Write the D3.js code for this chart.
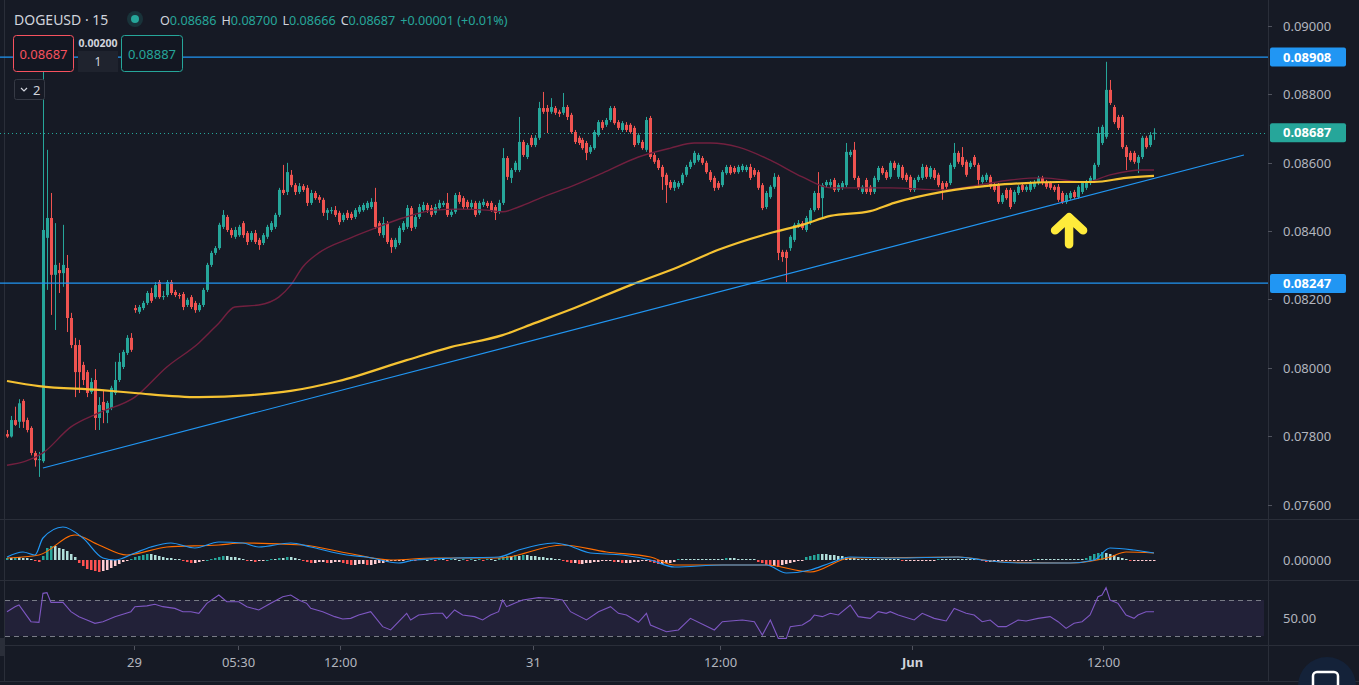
<!DOCTYPE html>
<html>
<head>
<meta charset="utf-8">
<script src="https://cdn.jsdelivr.net/npm/d3@7"></script>
<style>
  html, body { margin: 0; padding: 0; background: #161a25; overflow: hidden; }
  svg { display: block; }
  text { font-family: "Noto Sans", "Open Sans", sans-serif; }
</style>
</head>
<body>
<div id="chart"></div>
<script>
// DOGEUSD 15m candles, prices stored x 1e5 (8687 = 0.08687)
var opens = [
  7807,7800,7848,7843,7904,7848,7825,7752,7731,7728,
  8380,8438,8272,8286,8277,8292,8146,8067,8067,8009,
  7988,7930,7965,7854,7901,7869,7883,7927,7965,8003,
  8044,8088,8175,8164,8175,8190,8219,8207,8251,8207,
  8213,8251,8222,8213,8216,8184,8207,8190,8169,8184,
  8228,8301,8336,8350,8412,8441,8403,8383,8388,8423,
  8394,8374,8394,8374,8365,8383,8403,8412,8447,8520,
  8514,8564,8534,8514,8531,8526,8482,8511,8499,8491,
  8453,8458,8461,8453,8432,8453,8450,8441,8456,8461,
  8467,8470,8485,8423,8388,8423,8374,8353,8365,8403,
  8412,8467,8412,8441,8461,8476,8467,8453,8467,8476,
  8482,8447,8456,8505,8496,8485,8470,8482,8453,8476,
  8482,8482,8470,8456,8482,8613,8555,8578,8578,8660,
  8616,8672,8651,8672,8759,8759,8748,8759,8748,8745,
  8762,8739,8689,8672,8666,8657,8631,8642,8680,8718,
  8710,8724,8759,8718,8695,8710,8710,8701,8657,8660,
  8637,8730,8622,8607,8587,8564,8543,8526,8529,8540,
  8564,8587,8599,8607,8613,8599,8572,8555,8540,8534,
  8569,8587,8584,8572,8578,8578,8587,8578,8572,8534,
  8470,8499,8529,8558,8339,8339,8350,8374,8418,8423,
  8403,8423,8461,8511,8496,8534,8534,8549,8520,8526,
  8534,8622,8637,8555,8514,8549,8529,8514,8549,8584,
  8572,8558,8599,8558,8587,8564,8558,8520,8549,8555,
  8587,8558,8578,8564,8540,8540,8540,8587,8628,8616,
  8602,8587,8616,8593,8543,8549,8558,8534,8534,8485,
  8520,8520,8485,8511,8534,8520,8520,8529,8540,8555,
  8543,8540,8529,8529,8511,8485,8496,8514,8499,8514,
  8526,8540,8549,8593,8657,8675,8812,8762,8733,8733,
  8645,8628,8628,8599,8616,8672,8651,8686
];
var closes = [
  7800,7848,7834,7897,7843,7819,7752,7731,7734,8403,
  8438,8272,8301,8277,8301,8146,8067,7988,7988,7965,
  7927,7959,7854,7892,7877,7898,7942,7965,8018,8047,
  8088,8053,8169,8178,8190,8219,8196,8242,8207,8210,
  8251,8219,8213,8210,8178,8199,8178,8169,8184,8228,
  8301,8336,8350,8418,8447,8403,8388,8403,8412,8388,
  8368,8394,8368,8359,8388,8412,8423,8447,8520,8511,
  8572,8534,8514,8531,8520,8482,8511,8496,8491,8453,
  8461,8461,8447,8426,8447,8438,8438,8461,8470,8476,
  8482,8485,8412,8394,8423,8368,8353,8374,8409,8423,
  8467,8409,8441,8470,8476,8461,8447,8470,8482,8482,
  8447,8456,8505,8485,8470,8470,8482,8447,8482,8485,
  8473,8461,8453,8482,8613,8558,8578,8599,8660,8622,
  8651,8651,8672,8759,8748,8748,8762,8745,8742,8762,
  8733,8689,8660,8657,8642,8628,8645,8689,8718,8701,
  8724,8759,8715,8701,8715,8695,8689,8651,8680,8642,
  8724,8616,8602,8584,8558,8534,8526,8543,8540,8564,
  8587,8602,8628,8622,8599,8572,8549,8526,8526,8572,
  8587,8569,8572,8587,8590,8587,8555,8564,8526,8467,
  8511,8529,8558,8336,8324,8321,8383,8418,8423,8409,
  8438,8461,8511,8467,8534,8543,8543,8520,8534,8540,
  8631,8631,8555,8526,8529,8514,8514,8555,8584,8569,
  8555,8599,8584,8593,8555,8549,8520,8549,8558,8587,
  8558,8584,8555,8534,8520,8529,8593,8628,8602,8593,
  8564,8599,8593,8549,8558,8564,8529,8520,8485,8505,
  8496,8470,8514,8529,8520,8529,8540,8543,8555,8540,
  8529,8526,8520,8491,8485,8505,8511,8499,8529,8540,
  8543,8555,8593,8686,8704,8812,8774,8718,8701,8645,
  8616,8607,8602,8616,8672,8645,8680,8687
];
var highs = [
  7819,7860,7887,7909,7909,7855,7830,7758,7755,8908,
  8637,8511,8423,8307,8418,8330,8161,8088,8082,8018,
  7994,7971,7997,7915,7936,7904,7948,8018,8044,8053,
  8096,8102,8184,8184,8196,8225,8234,8251,8257,8225,
  8257,8257,8228,8219,8222,8205,8213,8196,8190,8234,
  8307,8342,8356,8424,8461,8447,8409,8412,8418,8429,
  8400,8400,8403,8380,8394,8418,8429,8453,8526,8593,
  8599,8578,8540,8540,8537,8534,8520,8517,8505,8497,
  8467,8470,8473,8459,8453,8461,8456,8467,8476,8482,
  8488,8496,8526,8429,8441,8429,8380,8380,8415,8429,
  8476,8473,8447,8479,8485,8482,8476,8479,8491,8488,
  8511,8464,8511,8514,8502,8491,8491,8488,8488,8494,
  8488,8488,8476,8491,8642,8619,8584,8605,8733,8666,
  8657,8680,8680,8777,8806,8768,8788,8765,8754,8803,
  8768,8745,8695,8678,8672,8663,8651,8695,8724,8724,
  8730,8765,8765,8724,8721,8718,8715,8707,8686,8666,
  8733,8736,8628,8613,8593,8570,8549,8549,8546,8570,
  8593,8608,8634,8628,8619,8605,8578,8561,8546,8578,
  8593,8593,8590,8593,8596,8593,8596,8584,8578,8540,
  8517,8534,8569,8564,8345,8345,8388,8424,8432,8429,
  8444,8467,8517,8572,8540,8549,8552,8555,8540,8546,
  8657,8637,8660,8561,8534,8555,8534,8561,8590,8590,
  8578,8605,8605,8599,8593,8570,8564,8555,8564,8596,
  8593,8590,8584,8570,8546,8546,8599,8657,8634,8645,
  8608,8605,8622,8599,8564,8570,8564,8540,8540,8511,
  8526,8526,8520,8534,8540,8534,8546,8549,8561,8561,
  8549,8546,8534,8537,8517,8511,8517,8520,8534,8546,
  8549,8561,8599,8704,8710,8894,8841,8768,8739,8739,
  8651,8634,8634,8622,8678,8678,8689,8700
];
var lows = [
  7796,7797,7831,7825,7825,7812,7745,7712,7682,7723,
  8228,8155,8111,8219,8237,8105,8058,7915,7927,7950,
  7915,7924,7819,7819,7839,7839,7877,7921,7959,7997,
  8038,8047,8161,8158,8169,8184,8190,8202,8202,8199,
  8207,8213,8207,8202,8169,8178,8172,8161,8164,8178,
  8222,8295,8330,8345,8406,8397,8380,8377,8383,8380,
  8359,8368,8362,8345,8359,8377,8397,8406,8441,8505,
  8505,8528,8505,8508,8514,8473,8476,8491,8482,8444,
  8432,8450,8441,8418,8426,8432,8432,8435,8450,8456,
  8461,8464,8406,8386,8380,8362,8336,8347,8359,8397,
  8406,8400,8406,8435,8456,8453,8441,8447,8461,8470,
  8441,8441,8450,8479,8464,8464,8464,8441,8447,8470,
  8467,8456,8432,8450,8476,8549,8540,8572,8572,8616,
  8610,8645,8645,8666,8742,8686,8742,8739,8733,8739,
  8724,8684,8654,8651,8637,8607,8625,8637,8675,8695,
  8704,8718,8710,8695,8689,8689,8684,8645,8651,8637,
  8631,8610,8596,8578,8520,8482,8520,8517,8523,8534,
  8558,8581,8593,8602,8593,8567,8543,8517,8520,8528,
  8564,8564,8567,8567,8572,8572,8549,8558,8520,8461,
  8464,8494,8523,8315,8310,8251,8342,8368,8409,8403,
  8397,8418,8456,8461,8438,8528,8526,8514,8514,8520,
  8528,8616,8549,8520,8508,8508,8505,8508,8543,8564,
  8549,8552,8578,8552,8549,8543,8514,8514,8543,8549,
  8552,8552,8549,8528,8491,8523,8534,8581,8596,8587,
  8558,8581,8587,8529,8537,8543,8523,8514,8479,8479,
  8491,8464,8479,8505,8514,8514,8514,8523,8534,8534,
  8523,8520,8514,8485,8479,8479,8491,8494,8494,8508,
  8520,8534,8543,8587,8651,8669,8768,8712,8695,8640,
  8578,8602,8596,8569,8610,8640,8645,8666
];

// moving averages, read at candle indexes (price x 1e5)
var emaAt   = [0,8,23,32,48,61,71,83,100,111,124,132,142,156,168,178,191,199,206,216,222,234,247,255,263,272,280,287];
var emaVals = [7962,7947,7936,7927,7915,7921,7933,7962,8023,8061,8096,8131,8175,8242,8295,8345,8394,8418,8444,8458,8482,8514,8534,8540,8543,8543,8555,8561];
var smaAt   = [0,9,16,23,32,40,48,53,57,63,68,71,74,78,86,93,99,107,113,120,124,128,134,142,149,158,166,172,176,183,191,199,206,221,234,243,251,259,270,276,284,287];
var smaVals = [7716,7752,7828,7869,7915,8003,8073,8131,8178,8184,8207,8242,8295,8336,8380,8412,8438,8461,8464,8461,8456,8470,8499,8534,8569,8616,8642,8657,8657,8645,8607,8558,8526,8526,8520,8534,8549,8555,8543,8564,8578,8578];

// drawings
var levels = [0.08908, 0.08247];
var lastPrice = 0.08687;
var trendAt = [9, 309.5];
var trendVals = [0.07708, 0.08622];

// MACD (x 1e5)
var macdAt   = [0,4,7,9,14,19,24,27,32,36,41,47,53,59,63,71,76,85,90,98,102,112,123,128,137,140,146,154,161,167,179,190,195,201,206,211,222,238,244,253,266,272,276,282,287];
var macdVals = [3,8,5,22,33,22,2,0,7,13,17,12,18,17,13,17,13,5,3,-3,0,2,3,10,17,15,7,5,0,-7,-5,-5,-13,-10,-3,3,2,3,0,-3,-3,0,12,10,7];
var sigAt    = [0,8,17,23,30,40,53,59,74,85,96,107,123,139,150,161,167,190,201,211,238,249,266,276,280,287];
var sigVals  = [2,5,25,15,5,13,15,17,15,7,0,2,2,15,8,3,-5,-5,-12,2,3,-2,-3,3,8,7];
var hist = [
  2,2,3,3,2,2,1,-1,-2,4,
  12,14,14,12,11,9,6,3,-3,-6,
  -9,-10,-11,-12,-11,-10,-8,-6,-4,-2,
  -1,1,3,4,5,6,6,5,4,3,
  2,2,1,1,-1,-2,-3,-3,-2,-1,
  0,1,2,3,4,4,3,3,2,1,
  -1,-1,-2,-1,-1,0,1,1,2,2,
  3,3,2,1,-1,-2,-3,-3,-2,-2,
  -3,-3,-2,-2,-3,-4,-5,-5,-4,-4,
  -5,-5,-4,-3,-3,-2,-1,-1,-1,-1,
  1,0,-1,1,1,0,1,-1,1,1,
  -1,1,1,0,1,-1,1,0,1,-1,
  1,1,0,2,3,4,4,5,4,5,
  5,4,4,3,3,2,2,1,1,-1,
  -2,-3,-3,-4,-4,-3,-3,-2,-2,-1,
  -1,-1,-2,-2,-3,-3,-3,-2,-2,-1,
  -1,-2,-3,-4,-4,-3,-3,-2,1,1,
  1,1,1,1,1,1,1,1,1,1,
  2,2,2,1,1,1,1,1,-2,-3,
  -5,-6,-6,-7,-5,-4,-3,-2,-1,-1,
  3,4,5,6,6,6,5,5,4,4,
  3,2,2,1,1,1,1,1,1,1,
  1,1,1,1,-1,-1,-1,-1,-1,-1,
  -1,-1,-1,1,1,1,1,1,1,1,
  1,1,1,1,-1,-2,-2,-2,-1,-1,
  -1,-1,-1,-1,-1,-1,-1,1,1,1,
  1,1,1,1,1,1,1,1,1,1,
  2,4,6,7,8,7,6,5,3,2,
  1,-1,-1,-1,-1,-1,-1,-1
];

// RSI
var rsiAt = [0,2,3,6,8,9,10,11,14,16,18,20,22,24,27,31,32,35,37,39,42,44,46,48,50,53,55,58,60,63,66,69,71,73,75,76,79,82,84,86,88,91,94,96,98,100,101,103,107,109,110,112,114,117,119,121,123,124,125,127,129,133,136,139,141,145,148,151,153,155,158,160,161,165,168,171,177,179,181,184,187,189,191,193,195,196,199,201,202,204,206,208,211,213,216,218,220,221,223,227,229,232,235,237,240,242,244,246,248,250,253,255,258,261,263,265,267,269,271,273,274,275,276,278,280,282,283,285,287];
var rsiVals = [57,62.6,64.4,45.9,45.2,77.4,78.1,67.4,67.4,57,51.5,47.8,44.1,45.9,51.5,57,62.6,63.5,65.2,62.6,60.7,57,57,55.2,66.3,75.6,68.1,68.1,62.6,58.9,66.3,73.7,75.6,70,66.3,60.7,57,51.5,48.9,49.6,53.3,57,40.4,36.7,45.9,55.2,47.8,53.3,55.2,55.2,49.6,58.9,53.3,51.5,47.8,53.3,57,70,62.6,66.3,70,72.6,71.9,70,57,47.8,57,62.6,55.2,53.3,45.2,55.2,42.2,34.8,36.7,49.6,36.7,45.9,46.7,47.8,45.9,31.1,47.8,27.4,27.4,40.4,42.2,47.8,53.3,51.5,55.2,53.3,64.4,51.5,49.6,57,55.2,57,53.3,47.8,55.2,49.6,46.7,60.7,55.2,53.3,45.9,47.8,40.4,40.4,47.8,46.7,49.6,51.5,45.9,38.5,44.1,45.9,53.3,73.7,75.6,83.7,70,66.3,53.3,49.6,53.3,57,57];

var priceTicks = [0.090, 0.088, 0.086, 0.084, 0.082, 0.080, 0.078, 0.076];
var timeAt = [31.75, 57.75, 83.25, 131.5, 178.5, 226.5, 274.25];
var timeLabels = ['29', '05:30', '12:00', '31', '12:00', 'Jun', '12:00'];

var width = 1359, height = 685, axisX = 1268;
var upColor = '#26a69a', downColor = '#ef5350', blue = '#2196f3';
var p = function(v){ return v / 1e5; };

var svg = d3.select('#chart').append('svg')
  .attr('width', width)
  .attr('height', height);

svg.append('rect').attr('width', width).attr('height', height).attr('fill', '#161a25');

var x = d3.scaleLinear().domain([0, 287]).range([7, 1154]);
var y = d3.scaleLinear().domain([0.076, 0.090]).range([505, 25.5]);
var yM = d3.scaleLinear().domain([-20, 40]).range([580, 520]);
var yR = d3.scaleLinear().domain([30, 70]).range([636, 600]);

var defs = svg.append('defs');
defs.append('clipPath').attr('id', 'mainClip').append('rect').attr('x', 0).attr('y', 0).attr('width', axisX).attr('height', 519);
defs.append('clipPath').attr('id', 'macdClip').append('rect').attr('x', 0).attr('y', 520).attr('width', axisX).attr('height', 60);
defs.append('clipPath').attr('id', 'rsiClip').append('rect').attr('x', 0).attr('y', 581).attr('width', axisX).attr('height', 64);

// pane borders
var border = '#2a2e39';
[519.5, 580.5, 645.5, 681.5].forEach(function(yy){
  svg.append('line').attr('x1', 0).attr('x2', width).attr('y1', yy).attr('y2', yy).attr('stroke', border);
});
svg.append('line').attr('x1', axisX + 0.5).attr('x2', axisX + 0.5).attr('y1', 0).attr('y2', 682).attr('stroke', border);
svg.append('line').attr('x1', 4.5).attr('x2', 4.5).attr('y1', 0).attr('y2', 682).attr('stroke', border);

// ---------- main pane ----------
var main = svg.append('g').attr('clip-path', 'url(#mainClip)');

// current price dotted line
main.append('line')
  .attr('x1', 0).attr('x2', axisX)
  .attr('y1', Math.round(y(lastPrice)) + 0.5).attr('y2', Math.round(y(lastPrice)) + 0.5)
  .attr('stroke', upColor).attr('stroke-dasharray', '1,3');

var idx = d3.range(closes.length);
var cw = 3;

main.append('g').selectAll('line')
  .data(idx).enter().append('line')
  .attr('x1', function(i){ return Math.round(x(i)) + 0.5; })
  .attr('x2', function(i){ return Math.round(x(i)) + 0.5; })
  .attr('y1', function(i){ return y(p(highs[i])); })
  .attr('y2', function(i){ return y(p(lows[i])); })
  .attr('stroke', function(i){ return closes[i] >= opens[i] ? upColor : downColor; })
  .attr('stroke-width', 1);

main.append('g').selectAll('rect')
  .data(idx).enter().append('rect')
  .attr('x', function(i){ return Math.round(x(i)) - 1; })
  .attr('width', cw)
  .attr('y', function(i){ return y(p(Math.max(opens[i], closes[i]))); })
  .attr('height', function(i){ return Math.max(1, Math.abs(y(p(opens[i])) - y(p(closes[i])))); })
  .attr('fill', function(i){ return closes[i] >= opens[i] ? upColor : downColor; });

var maLine = d3.line()
  .x(function(d){ return x(d[0]); })
  .y(function(d){ return y(p(d[1])); })
  .curve(d3.curveMonotoneX);

main.append('path')
  .attr('d', maLine(d3.zip(smaAt, smaVals)))
  .attr('fill', 'none').attr('stroke', '#72203f').attr('stroke-width', 1.4);

main.append('path')
  .attr('d', maLine(d3.zip(emaAt, emaVals)))
  .attr('fill', 'none').attr('stroke', '#f5c232').attr('stroke-width', 2.2);

// horizontal levels + trend line
levels.forEach(function(lv){
  main.append('line')
    .attr('x1', 0).attr('x2', axisX)
    .attr('y1', Math.round(y(lv))).attr('y2', Math.round(y(lv)))
    .attr('stroke', blue).attr('stroke-width', 1.25);
});
main.append('line')
  .attr('x1', x(trendAt[0])).attr('y1', y(trendVals[0]))
  .attr('x2', x(trendAt[1])).attr('y2', y(trendVals[1]))
  .attr('stroke', blue).attr('stroke-width', 1.2);

// yellow arrow annotation
var ax = x(265.75), ay = y(0.08440);
main.append('path')
  .attr('d', 'M' + ax + ',' + (ay + 27) + 'V' + ay + 'M' + (ax - 14) + ',' + (ay + 13) + 'L' + ax + ',' + ay + 'L' + (ax + 14) + ',' + (ay + 13))
  .attr('fill', 'none').attr('stroke', '#ffeb3b').attr('stroke-width', 8.5)
  .attr('stroke-linecap', 'round').attr('stroke-linejoin', 'round');

// ---------- MACD pane ----------
var macdG = svg.append('g').attr('clip-path', 'url(#macdClip)');
macdG.append('g').selectAll('rect')
  .data(idx).enter().append('rect')
  .attr('x', function(i){ return Math.round(x(i)) - 1; })
  .attr('width', 2.5)
  .attr('y', function(i){ return hist[i] >= 0 ? yM(hist[i]) : yM(0); })
  .attr('height', function(i){ return Math.max(1, Math.abs(yM(hist[i]) - yM(0))); })
  .attr('fill', function(i){
    var h = hist[i], prev = i > 0 ? hist[i - 1] : 0;
    if (h >= 0) return h > prev ? '#26a69a' : '#b2dfdb';
    return h < prev ? '#ff5252' : '#ffcdd2';
  });

var mLine = d3.line()
  .x(function(d){ return x(d[0]); })
  .y(function(d){ return yM(d[1]); })
  .curve(d3.curveMonotoneX);
macdG.append('path').attr('d', mLine(d3.zip(sigAt, sigVals)))
  .attr('fill', 'none').attr('stroke', '#ff6d00').attr('stroke-width', 1.2);
macdG.append('path').attr('d', mLine(d3.zip(macdAt, macdVals)))
  .attr('fill', 'none').attr('stroke', '#2196f3').attr('stroke-width', 1.2);

// ---------- RSI pane ----------
var rsiG = svg.append('g').attr('clip-path', 'url(#rsiClip)');
rsiG.append('rect')
  .attr('x', 5).attr('width', axisX - 9)
  .attr('y', yR(70)).attr('height', yR(30) - yR(70))
  .attr('fill', 'rgba(126,87,194,0.12)');
[70, 30].forEach(function(v){
  rsiG.append('line')
    .attr('x1', 5).attr('x2', axisX - 4)
    .attr('y1', Math.round(yR(v)) + 0.5).attr('y2', Math.round(yR(v)) + 0.5)
    .attr('stroke', '#787b86').attr('stroke-dasharray', '5,4');
});
rsiG.append('path')
  .attr('d', d3.line().x(function(d){ return x(d[0]); }).y(function(d){ return yR(d[1]); })(d3.zip(rsiAt, rsiVals)))
  .attr('fill', 'none').attr('stroke', '#7e57c2').attr('stroke-width', 1.1);

// ---------- right axis ----------
var axisG = svg.append('g');
var fmt = d3.format('.5f');
priceTicks.forEach(function(t){
  var yy = Math.round(y(t)) + 0.5;
  axisG.append('line').attr('x1', axisX).attr('x2', axisX + 4).attr('y1', yy).attr('y2', yy).attr('stroke', '#50535e');
  axisG.append('text').attr('x', 1283).attr('y', yy).attr('dy', '0.35em')
    .attr('fill', '#b2b5be').attr('font-size', 13).text(fmt(t));
});
axisG.append('text').attr('x', 1283).attr('y', yM(0)).attr('dy', '0.35em')
  .attr('fill', '#b2b5be').attr('font-size', 13).text(fmt(0));
axisG.append('text').attr('x', 1283).attr('y', yR(50)).attr('dy', '0.35em')
  .attr('fill', '#b2b5be').attr('font-size', 13).text('50.00');

function priceTag(v, color){
  var yy = y(v);
  axisG.append('rect').attr('x', axisX + 2).attr('y', yy - 9.5).attr('width', 76).attr('height', 19)
    .attr('rx', 2).attr('fill', color);
  axisG.append('text').attr('x', 1283).attr('y', yy).attr('dy', '0.35em')
    .attr('fill', '#ffffff').attr('font-size', 13).attr('font-weight', 700).text(fmt(v));
}
levels.forEach(function(lv){ priceTag(lv, blue); });
priceTag(lastPrice, upColor);

// ---------- time axis ----------
timeAt.forEach(function(t, k){
  var xx = Math.round(x(t)) + 0.5;
  svg.append('line').attr('x1', xx).attr('x2', xx).attr('y1', 646).attr('y2', 650).attr('stroke', '#50535e');
  svg.append('text').attr('x', xx).attr('y', 667).attr('text-anchor', 'middle')
    .attr('fill', timeLabels[k] === 'Jun' ? '#d1d4dc' : '#b2b5be')
    .attr('font-weight', timeLabels[k] === 'Jun' ? 700 : 400)
    .attr('font-size', 13).text(timeLabels[k]);
});

// ---------- header / overlays ----------
svg.append('text').attr('x', 14).attr('y', 25).attr('fill', '#d1d4dc').attr('font-size', 14).text('DOGEUSD · 15');
svg.append('circle').attr('cx', 135).attr('cy', 19).attr('r', 8).attr('fill', 'rgba(38,166,154,0.18)');
svg.append('circle').attr('cx', 135).attr('cy', 19).attr('r', 4).attr('fill', upColor);

var ohlc = svg.append('text').attr('x', 160).attr('y', 25).attr('font-size', 12.6);
[['O', '0.08686'], ['H', '0.08700'], ['L', '0.08666'], ['C', '0.08687']].forEach(function(pr, k){
  ohlc.append('tspan').attr('fill', '#d1d4dc').attr('dx', k ? 5 : 0).text(pr[0]);
  ohlc.append('tspan').attr('fill', upColor).text(pr[1]);
});
ohlc.append('tspan').attr('fill', upColor).attr('dx', 5).text('+0.00001 (+0.01%)');

// trade boxes
svg.append('rect').attr('x', 13.5).attr('y', 35.5).attr('width', 60).attr('height', 36).attr('rx', 3)
  .attr('fill', '#131722').attr('stroke', '#f7525f');
svg.append('text').attr('x', 43.5).attr('y', 54).attr('dy', '0.35em').attr('text-anchor', 'middle')
  .attr('fill', '#f7525f').attr('font-size', 13).text('0.08687');
svg.append('rect').attr('x', 78).attr('y', 51).attr('width', 40).attr('height', 21).attr('fill', '#1f232e');
svg.append('text').attr('x', 98).attr('y', 43).attr('dy', '0.35em').attr('text-anchor', 'middle')
  .attr('fill', '#d1d4dc').attr('font-size', 10.5).attr('font-weight', 700).text('0.00200');
svg.append('text').attr('x', 98).attr('y', 62).attr('dy', '0.35em').attr('text-anchor', 'middle')
  .attr('fill', '#d1d4dc').attr('font-size', 12).text('1');
svg.append('rect').attr('x', 121.5).attr('y', 35.5).attr('width', 61).attr('height', 36).attr('rx', 3)
  .attr('fill', '#131722').attr('stroke', upColor);
svg.append('text').attr('x', 152).attr('y', 54).attr('dy', '0.35em').attr('text-anchor', 'middle')
  .attr('fill', upColor).attr('font-size', 13).text('0.08887');

// collapse button
svg.append('rect').attr('x', 14.5).attr('y', 79.5).attr('width', 30).attr('height', 20).attr('rx', 2)
  .attr('fill', '#161a25').attr('stroke', '#363a45');
svg.append('path').attr('d', 'M21,88 L24,91 L27,88').attr('fill', 'none').attr('stroke', '#d1d4dc').attr('stroke-width', 1.2);
svg.append('text').attr('x', 33).attr('y', 90).attr('dy', '0.35em').attr('fill', '#d1d4dc').attr('font-size', 13).text('2');

// left tab + bottom right button
svg.append('rect').attr('x', 0).attr('y', 638).attr('width', 5).attr('height', 18).attr('fill', '#2a2e39');
svg.append('circle').attr('cx', 1327).attr('cy', 686).attr('r', 29).attr('fill', '#142239');
svg.append('rect').attr('x', 1313).attr('y', 672).attr('width', 25).attr('height', 22).attr('rx', 4)
  .attr('fill', 'none').attr('stroke', '#ffffff').attr('stroke-width', 2.5);
</script>
</body>
</html>
